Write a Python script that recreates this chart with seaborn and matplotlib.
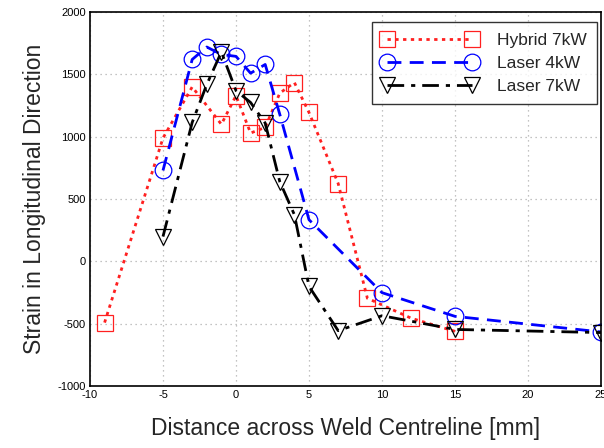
import matplotlib
matplotlib.use("Agg")
import matplotlib.pyplot as plt
import seaborn as sns

# ---------------- data ----------------
hybrid7_x = [-9, -5, -3, -1, 0, 1, 2, 3, 4, 5, 7, 9, 12, 15]
hybrid7_y = [-490, 990, 1400, 1100, 1330, 1030, 1075, 1350, 1435, 1195, 625, -295, -455, -560]

laser4_x = [-5, -3, -2, -1, 0, 1, 2, 3, 5, 10, 15, 25]
laser4_y = [730, 1620, 1720, 1660, 1645, 1510, 1580, 1180, 335, -250, -440, -565]

laser7_x = [-5, -3, -2, -1, 0, 1, 2, 3, 4, 5, 7, 10, 15, 25]
laser7_y = [200, 1115, 1420, 1680, 1370, 1275, 1110, 640, 375, -200, -555, -435, -545, -570]

series_names = ["Hybrid 7kW", "Laser 4kW", "Laser 7kW"]
x_ticks = [-10, -5, 0, 5, 10, 15, 20, 25]
y_ticks = [-1000, -500, 0, 500, 1000, 1500, 2000]

# ---------------- plotting ----------------
sns.set_style("white")
plt.rcParams["font.family"] = ["Liberation Sans", "DejaVu Sans"]
plt.rcParams["axes.unicode_minus"] = False

fig = plt.figure(figsize=(6.04, 4.48), dpi=100)
ax = fig.add_axes([0.149, 0.138, 0.846, 0.835])

styles = [
    (hybrid7_x, hybrid7_y, "#ff2020", "s", (0, (1.2, 1.6)), 2.0),
    (laser4_x, laser4_y, "blue", "o", (0, (5, 3)), 2.0),
    (laser7_x, laser7_y, "black", "v", (0, (6, 2.5, 1.5, 2.5)), 2.0),
]
for (xs, ys, col, mk, ls, lw), name in zip(styles, series_names):
    sns.lineplot(x=xs, y=ys, ax=ax, color=col, marker=mk, markersize=12,
                 markerfacecolor="none", markeredgecolor=col, markeredgewidth=0.9,
                 linestyle=ls, linewidth=lw, label=name, sort=False, estimator=None)

ax.set_xlim(-10, 25)
ax.set_ylim(-1000, 2000)
ax.set_xticks(x_ticks)
ax.set_yticks(y_ticks)
ax.grid(True, linestyle=(0, (1, 3)), color="#b0b0b0", linewidth=0.9)
ax.tick_params(direction="in", length=3, labelsize=8, colors="black", pad=3)
for sp in ax.spines.values():
    sp.set_color("black")
    sp.set_linewidth(1.2)

ax.set_xlabel("Distance across Weld Centreline [mm]", fontsize=16.5, labelpad=12)
ax.set_ylabel("Strain in Longitudinal Direction", fontsize=16.5, labelpad=8)

leg = ax.legend(loc="upper right", bbox_to_anchor=(0.992, 0.973), borderaxespad=0,
                fontsize=12.5, numpoints=2, frameon=True, fancybox=False,
                edgecolor="black", handlelength=5.5, borderpad=0.6,
                labelspacing=0.45, handletextpad=1.1)
leg.get_frame().set_linewidth(1.0)

fig.savefig("out.png", dpi=100)
